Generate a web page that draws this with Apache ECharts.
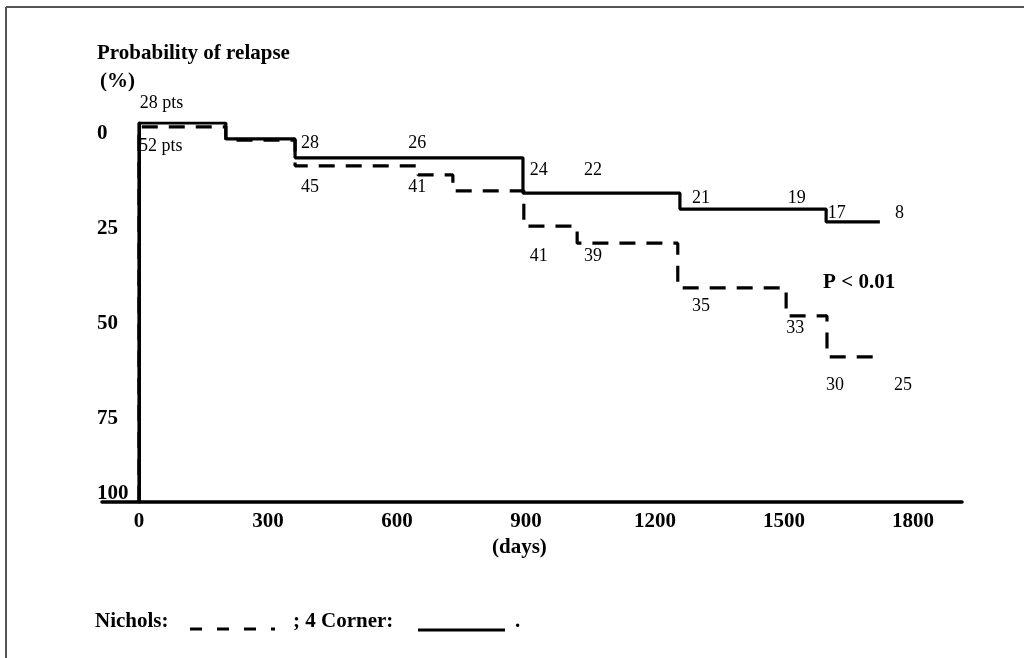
<!DOCTYPE html>
<html>
<head>
<meta charset="utf-8">
<script src="https://cdn.jsdelivr.net/npm/echarts@6/dist/echarts.min.js"></script>
<style>
  html, body { margin: 0; padding: 0; background: #fff; }
  #chart { width: 1024px; height: 658px; }
</style>
</head>
<body>
<div id="chart"></div>
<script>
// axis ticks
const dayTicks = [0, 300, 600, 900, 1200, 1500, 1800];
const pctTicks = [0, 25, 50, 75, 100];

// 4 Corner (solid) step curve, first point is the bottom of the start line
const cornerDays = [0, 0, 202, 363, 893, 1258, 1598, 1723];
const cornerPct = [100, 0, 4.2, 9.2, 18.5, 22.7, 26.1, 26.1];

// Nichols (dashed) step curve
const nicholsDays = [0, 0, 202, 363, 649, 730, 895, 1019, 1253, 1505, 1600, 1723];
const nicholsPct = [100, 1, 4.5, 11.3, 13.7, 17.9, 27.2, 31.7, 43.5, 50.9, 61.7, 61.7];

// patients at risk notes
const noteTexts = ['28 pts', '52 pts', '28', '45', '26', '41', '24', '22', '41', '39', '21', '19', '17', '8', '35', '33', '30', '25'];
const noteDays = [2, 0, 377, 377, 626, 626, 909, 1035, 909, 1035, 1286, 1509, 1602, 1758, 1286, 1505, 1598, 1756];
const notePct = [-5.3, 6.1, 5.3, 16.9, 5.3, 16.9, 12.4, 12.4, 35.1, 35.1, 19.8, 19.8, 23.7, 23.7, 48.3, 54.1, 69.1, 69.1];

const pText = 'P < 0.01';
const pDay = 1591;
const pPct = 42.2;

const serif = '"Liberation Serif", "DejaVu Serif", serif';

const chart = echarts.init(document.getElementById('chart'));

const option = {
  backgroundColor: '#fff',
  animation: false,
  grid: { left: 102, right: 62, top: 123, bottom: 156 },
  xAxis: {
    type: 'value',
    min: -86,
    max: 1914,
    axisLine: { onZero: false, lineStyle: { color: '#000', width: 3.5 } },
    axisTick: { show: false },
    splitLine: { show: false },
    axisLabel: {
      customValues: dayTicks,
      formatter: v => String(v),
      color: '#000',
      fontFamily: serif,
      fontWeight: 'bold',
      fontSize: 21,
      margin: 9
    }
  },
  yAxis: {
    type: 'value',
    inverse: true,
    min: 0,
    max: 100,
    axisLine: { onZero: true, lineStyle: { color: '#000', width: 3 } },
    axisTick: { show: false },
    splitLine: { show: false },
    axisLabel: {
      customValues: pctTicks,
      color: '#000',
      fontFamily: serif,
      fontWeight: 'bold',
      fontSize: 21,
      align: 'left',
      margin: 5,
      formatter: v => v === 100 ? '{up|' + v + '}' : '{down|' + v + '}',
      rich: {
        up: { fontFamily: serif, fontWeight: 'bold', fontSize: 21, color: '#000', padding: [0, 0, 16, 0] },
        down: { fontFamily: serif, fontWeight: 'bold', fontSize: 21, color: '#000', padding: [22, 0, 0, 0] }
      }
    }
  },
  series: [
    {
      name: 'Nichols',
      type: 'line',
      step: 'end',
      symbol: 'none',
      data: nicholsDays.map((d, i) => [d, nicholsPct[i]]),
      lineStyle: { color: '#000', width: 3.2, type: [16, 11] }
    },
    {
      name: '4 Corner',
      type: 'line',
      step: 'end',
      symbol: 'none',
      data: cornerDays.map((d, i) => [d, cornerPct[i]]),
      lineStyle: { color: '#000', width: 3.2 }
    },
    {
      type: 'scatter',
      symbolSize: 0,
      clip: false,
      silent: true,
      itemStyle: { opacity: 1 },
      data: noteTexts.map((t, i) => [noteDays[i], notePct[i], t]),
      label: {
        show: true,
        position: 'right',
        distance: 0,
        formatter: p => p.data[2],
        color: '#000',
        fontFamily: serif,
        fontSize: 18
      }
    },
    {
      type: 'scatter',
      symbolSize: 0,
      clip: false,
      silent: true,
      itemStyle: { opacity: 1 },
      data: [[pDay, pPct, pText]],
      label: {
        show: true,
        position: 'right',
        distance: 0,
        formatter: p => p.data[2],
        color: '#000',
        fontFamily: serif,
        fontWeight: 'bold',
        fontSize: 21
      }
    }
  ],
  graphic: [
    // frame
    { type: 'line', shape: { x1: 6, y1: 7, x2: 1024, y2: 7 }, style: { stroke: '#555', lineWidth: 2 } },
    { type: 'line', shape: { x1: 6, y1: 7, x2: 6, y2: 658 }, style: { stroke: '#555', lineWidth: 2 } },
    // axis titles
    { type: 'text', left: 97, top: 43, style: { text: 'Probability of relapse', font: 'bold 21px ' + serif, fill: '#000' } },
    { type: 'text', left: 100, top: 71, style: { text: '(%)', font: 'bold 21px ' + serif, fill: '#000' } },
    { type: 'text', left: 492, top: 537, style: { text: '(days)', font: 'bold 21px ' + serif, fill: '#000' } },
    // legend line
    { type: 'text', left: 95, top: 611, style: { text: 'Nichols:', font: 'bold 21px ' + serif, fill: '#000' } },
    { type: 'line', shape: { x1: 190, y1: 629, x2: 275, y2: 629 }, style: { stroke: '#000', lineWidth: 3, lineDash: [12, 15] } },
    { type: 'text', left: 293, top: 611, style: { text: '; 4 Corner:', font: 'bold 21px ' + serif, fill: '#000' } },
    { type: 'line', shape: { x1: 418, y1: 630, x2: 505, y2: 630 }, style: { stroke: '#000', lineWidth: 3 } },
    { type: 'text', left: 515, top: 611, style: { text: '.', font: 'bold 21px ' + serif, fill: '#000' } }
  ]
};

chart.setOption(option);
window.addEventListener('resize', () => chart.resize());
</script>
</body>
</html>
